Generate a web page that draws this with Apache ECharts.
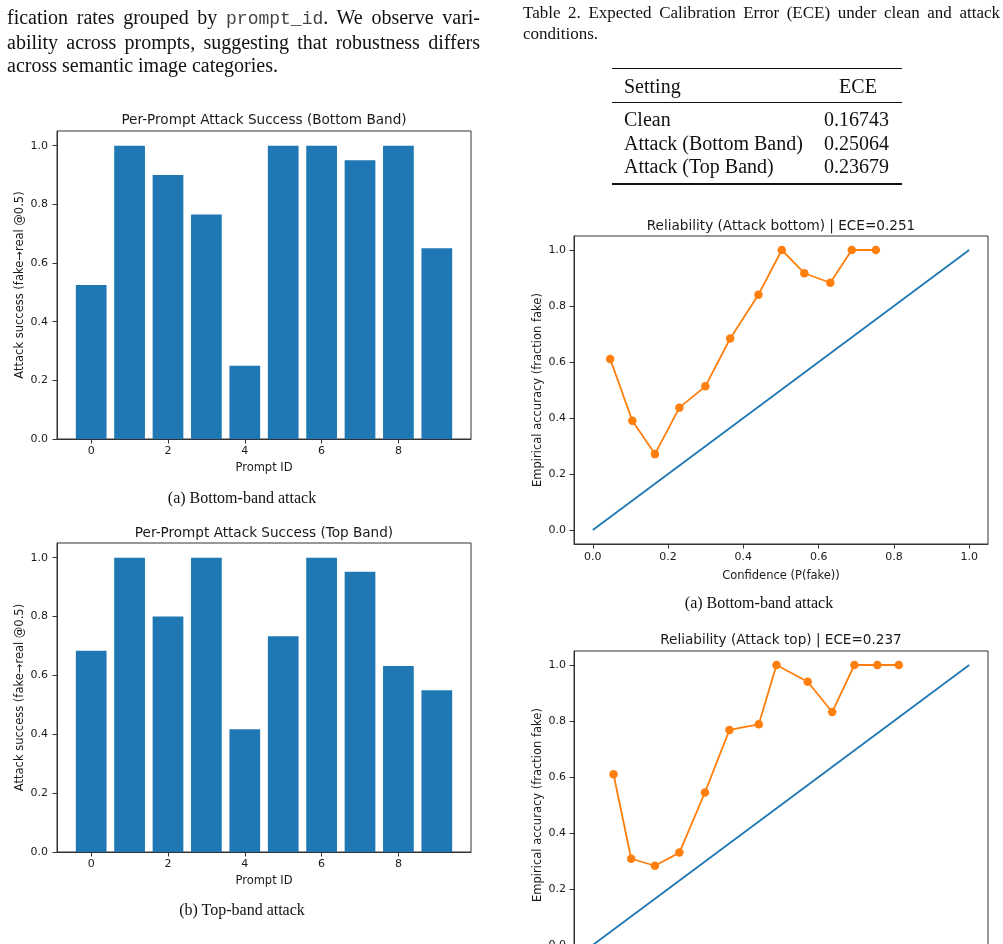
<!DOCTYPE html>
<html>
<head>
<meta charset="utf-8">
<script src="https://cdn.jsdelivr.net/npm/echarts@6/dist/echarts.min.js"></script>
<style>
  html, body { margin: 0; padding: 0; background: #fff; }
  body { position: relative; width: 1003px; height: 944px; overflow: hidden;
         font-family: 'Liberation Serif', 'Times New Roman', serif; color: #111; }
  #chart { position: absolute; left: 0; top: 0; width: 1003px; height: 1000px; }
  .para { position: absolute; left: 7px; top: 5.6px; width: 473px; font-size: 20px; line-height: 23.3px; }
  .para div { text-align: justify; text-align-last: justify; }
  .para div.last { text-align-last: left; }
  .tt { font-family: 'Liberation Mono', 'Courier New', monospace; font-size: 18px; color: #444; }
  .tcap { position: absolute; left: 523px; top: 1.7px; width: 477px; font-size: 17px; line-height: 21.7px; }
  .tcap div { text-align: justify; text-align-last: justify; }
  .tcap div.last { text-align-last: left; }
  .rule { position: absolute; left: 612px; width: 290px; background: #111; }
  .cell { position: absolute; font-size: 20px; line-height: 22px; white-space: nowrap; }
  .cap { position: absolute; width: 300px; text-align: center; font-size: 16px; line-height: 18px; white-space: nowrap; }
</style>
</head>
<body>
<div id="chart"></div>

<div class="para">
  <div>fication rates grouped by <span class="tt">prompt_id</span>. We observe vari-</div>
  <div>ability across prompts, suggesting that robustness differs</div>
  <div class="last">across semantic image categories.</div>
</div>

<div class="tcap">
  <div>Table 2. Expected Calibration Error (ECE) under clean and attack</div>
  <div class="last">conditions.</div>
</div>

<div id="table"></div>

<div class="cap" style="left:92px; top:488.5px;">(a) Bottom-band attack</div>
<div class="cap" style="left:92px; top:900.5px;">(b) Top-band attack</div>
<div class="cap" style="left:609px; top:593.5px;">(a) Bottom-band attack</div>

<script>
// per-prompt attack success rates
const promptIds = [0, 1, 2, 3, 4, 5, 6, 7, 8, 9]
const bottomBandSuccess = [0.525, 1.0, 0.9, 0.765, 0.25, 1.0, 1.0, 0.95, 1.0, 0.65]
const topBandSuccess = [0.684, 1.0, 0.8, 1.0, 0.417, 0.733, 1.0, 0.952, 0.632, 0.55]

// reliability curves (bin confidence vs fraction fake)
const bottomConfidence = [0.046, 0.105, 0.165, 0.230, 0.299, 0.365, 0.440, 0.502, 0.562, 0.631, 0.688, 0.752]
const bottomAccuracy = [0.611, 0.390, 0.271, 0.437, 0.513, 0.684, 0.840, 1.0, 0.917, 0.883, 1.0, 1.0]
const topConfidence = [0.055, 0.102, 0.165, 0.230, 0.298, 0.363, 0.441, 0.488, 0.571, 0.636, 0.695, 0.756, 0.813]
const topAccuracy = [0.610, 0.308, 0.283, 0.330, 0.545, 0.768, 0.788, 1.0, 0.940, 0.832, 1.0, 1.0, 1.0]
const diagonal = [0, 1]

// tick labels
const promptTicks = [0, 2, 4, 6, 8]
const unitTicks = [0, 0.2, 0.4, 0.6, 0.8, 1.0]

// Table 2
const tableSettings = ['Clean', 'Attack (Bottom Band)', 'Attack (Top Band)']
const tableEce = ['0.16743', '0.25064', '0.23679']

// ---- table (plain html) ----
const table = document.getElementById('table')
function addEl(cls, style, text) {
  const el = document.createElement('div')
  el.className = cls
  el.style.cssText = style
  if (text) el.textContent = text
  table.appendChild(el)
}
addEl('rule', 'top:67.5px;height:1.5px;')
addEl('rule', 'top:101.8px;height:1px;')
addEl('rule', 'top:183.3px;height:1.5px;')
addEl('cell', 'left:624px;top:75px;', 'Setting')
addEl('cell', 'left:808px;top:75px;width:100px;text-align:center;', 'ECE')
const rowTops = [108, 131.5, 155.3]
tableSettings.forEach((s, i) => {
  addEl('cell', 'left:624px;top:' + rowTops[i] + 'px;', s)
  addEl('cell', 'left:789px;top:' + rowTops[i] + 'px;width:100px;text-align:right;', tableEce[i])
})

// ---- charts ----
const FONT = 'DejaVu Sans'
const INK = '#1a1a1a'
const SPINE = '#333'
const BLUE = '#1f77b4'
const ORANGE = '#ff7f0e'

const grids = [
  { left: 57, top: 131, width: 414, height: 308 },
  { left: 57, top: 543, width: 414, height: 309 },
  { left: 574, top: 236, width: 414, height: 308 },
  { left: 574, top: 651, width: 414, height: 308 }
]

const barMin = -0.89
const barMax = 9.89
const barWidth = 0.8 * grids[0].width / (barMax - barMin)

function axis(gridIndex, min, max, ticks, fmt, name, nameGap, labelMargin) {
  return {
    type: 'value',
    gridIndex,
    min,
    max,
    name,
    nameLocation: 'middle',
    nameGap,
    nameTextStyle: { fontFamily: FONT, fontSize: 11.5, color: INK },
    axisLine: { show: true, onZero: false, lineStyle: { color: SPINE, width: 1 } },
    axisTick: { show: true, inside: false, length: 4.5, customValues: ticks, lineStyle: { color: SPINE, width: 1 } },
    axisLabel: { customValues: ticks, formatter: fmt, margin: labelMargin, fontFamily: FONT, fontSize: 11, color: INK },
    splitLine: { show: false }
  }
}
const fmt1 = v => Number(v).toFixed(1)
const fmt0 = v => String(Math.round(v))

function title(text, x, top) {
  return {
    text,
    left: x,
    top,
    textAlign: 'center',
    padding: 0,
    textStyle: { fontFamily: FONT, fontSize: 13.6, fontWeight: 'normal', color: INK }
  }
}

const chart = echarts.init(document.getElementById('chart'), null, { renderer: 'canvas' })
chart.setOption({
  animation: false,
  title: [
    title('Per-Prompt Attack Success (Bottom Band)', 264, 113.5),
    title('Per-Prompt Attack Success (Top Band)', 264, 526.5),
    title('Reliability (Attack bottom) | ECE=0.251', 781, 219),
    title('Reliability (Attack top) | ECE=0.237', 781, 633.5)
  ],
  grid: grids.map(g => Object.assign({ show: true, borderColor: SPINE, borderWidth: 1, backgroundColor: 'transparent' }, g)),
  xAxis: [
    axis(0, barMin, barMax, promptTicks, fmt0, 'Prompt ID', 23, 7),
    axis(1, barMin, barMax, promptTicks, fmt0, 'Prompt ID', 23, 7),
    axis(2, -0.05, 1.05, unitTicks, fmt1, 'Confidence (P(fake))', 26, 8),
    axis(3, -0.05, 1.05, unitTicks, fmt1, '', 26, 8)
  ],
  yAxis: [
    axis(0, 0, 1.05, unitTicks, fmt1, 'Attack success (fake\u2192real @0.5)', 30.5, 9),
    axis(1, 0, 1.05, unitTicks, fmt1, 'Attack success (fake\u2192real @0.5)', 30.5, 9),
    axis(2, -0.05, 1.05, unitTicks, fmt1, 'Empirical accuracy (fraction fake)', 29.5, 8),
    axis(3, -0.05, 1.05, unitTicks, fmt1, 'Empirical accuracy (fraction fake)', 29.5, 8)
  ],
  series: [
    {
      type: 'bar', xAxisIndex: 0, yAxisIndex: 0, barWidth,
      itemStyle: { color: BLUE },
      data: promptIds.map((id, i) => [id, bottomBandSuccess[i]])
    },
    {
      type: 'bar', xAxisIndex: 1, yAxisIndex: 1, barWidth,
      itemStyle: { color: BLUE },
      data: promptIds.map((id, i) => [id, topBandSuccess[i]])
    },
    {
      type: 'line', xAxisIndex: 2, yAxisIndex: 2, showSymbol: false,
      lineStyle: { color: BLUE, width: 1.8 },
      data: diagonal.map(v => [v, v])
    },
    {
      type: 'line', xAxisIndex: 2, yAxisIndex: 2, symbol: 'circle', symbolSize: 8.5,
      itemStyle: { color: ORANGE }, lineStyle: { color: ORANGE, width: 1.8 },
      data: bottomConfidence.map((c, i) => [c, bottomAccuracy[i]])
    },
    {
      type: 'line', xAxisIndex: 3, yAxisIndex: 3, showSymbol: false,
      lineStyle: { color: BLUE, width: 1.8 },
      data: diagonal.map(v => [v, v])
    },
    {
      type: 'line', xAxisIndex: 3, yAxisIndex: 3, symbol: 'circle', symbolSize: 8.5,
      itemStyle: { color: ORANGE }, lineStyle: { color: ORANGE, width: 1.8 },
      data: topConfidence.map((c, i) => [c, topAccuracy[i]])
    }
  ]
})
</script>
</body>
</html>
